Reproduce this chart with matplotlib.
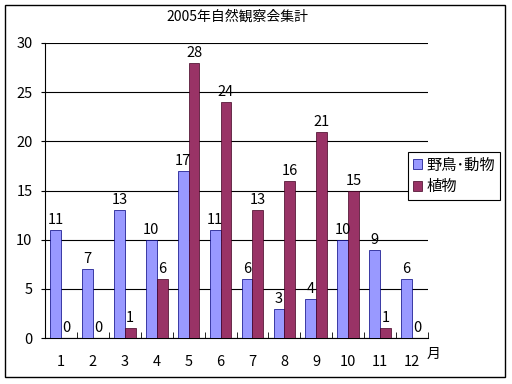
import matplotlib
matplotlib.use('Agg')
import matplotlib.pyplot as plt
from matplotlib.patches import Rectangle
import numpy as np

plt.rcParams['font.family'] = ['Noto Sans CJK JP', 'DejaVu Sans']

# データ
months = ['1', '2', '3', '4', '5', '6', '7', '8', '9', '10', '11', '12']
birds_animals = [11, 7, 13, 10, 17, 11, 6, 3, 4, 10, 9, 6]
plants = [0, 0, 1, 6, 28, 24, 13, 16, 21, 15, 1, 0]
series_names = ['野鳥･動物', '植物']
title = '2005年自然観察会集計'

fig = plt.figure(figsize=(5.12, 3.84), dpi=100)
ax = fig.add_axes([45 / 512, 1 - 338 / 384, 383 / 512, 295 / 384])

# 外枠
fig.patches.append(Rectangle((5 / 512, 1 - 377 / 384), 500 / 512, 372 / 384,
                             transform=fig.transFigure, fill=False,
                             edgecolor='black', linewidth=1.0))

x = np.arange(len(months))
w = 0.34
b1 = ax.bar(x - w / 2, birds_animals, w, color='#9999FF', edgecolor='#000080',
            linewidth=0.5, label=series_names[0], zorder=3)
b2 = ax.bar(x + w / 2, plants, w, color='#993366', edgecolor='#400020',
            linewidth=0.5, label=series_names[1], zorder=3)

for bars in (b1, b2):
    for r in bars:
        ax.text(r.get_x() + r.get_width() / 2, r.get_height() + 0.3,
                str(int(r.get_height())), ha='center', va='bottom',
                fontsize=10.5, zorder=4)

ax.set_xlim(-0.5, 11.5)
ax.set_ylim(0, 30)
ax.set_yticks(range(0, 31, 5))
ax.yaxis.grid(True, color='black', linewidth=0.8, zorder=0)
ax.set_xticks(x)
ax.set_xticklabels(months, fontsize=10.5)
ax.set_xticks(np.arange(-0.5, 12, 1), minor=True)
ax.tick_params(axis='x', which='major', length=0, pad=12)
ax.tick_params(axis='x', which='minor', length=4, direction='in')
ax.tick_params(axis='y', length=3, direction='out', labelsize=10.5, pad=6)
for s in ['top', 'right']:
    ax.spines[s].set_visible(False)
ax.spines['left'].set_linewidth(0.8)
ax.spines['bottom'].set_linewidth(0.8)

fig.text(237 / 512, 1 - 17 / 384, title, ha='center', va='center', fontsize=10)
fig.text(434 / 512, 1 - 354 / 384, '月', ha='center', va='center', fontsize=10)

leg = fig.legend(loc='upper left', bbox_to_anchor=(408 / 512, 1 - 152 / 384),
                 fontsize=11, frameon=True, fancybox=False, edgecolor='black',
                 framealpha=1, handlelength=0.6, handleheight=0.6,
                 handletextpad=0.3, borderpad=0.3, labelspacing=0.3,
                 borderaxespad=0)
leg.get_frame().set_linewidth(0.8)

fig.savefig('out.png', dpi=100)
